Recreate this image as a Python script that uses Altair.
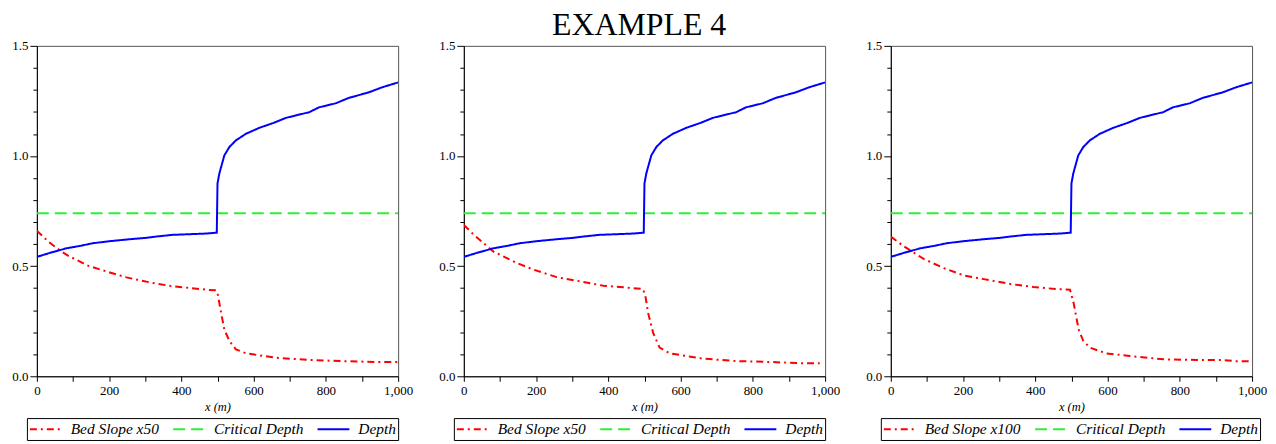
import altair as alt
import pandas as pd

# ---------------- data ----------------
depth_x = [0, 40, 82, 120, 155, 200, 256, 300, 329, 375, 439, 470, 498, 500, 505, 510, 519, 533, 551,
           579, 616, 653, 689, 754, 781, 827, 864, 919, 956, 1000]
depth_y = [0.542, 0.562, 0.581, 0.592, 0.604, 0.613, 0.622, 0.628, 0.634, 0.642, 0.646, 0.648, 0.652,
           0.875, 0.920, 0.950, 1.003, 1.041, 1.071, 1.101, 1.128, 1.149, 1.173, 1.199, 1.221, 1.239,
           1.264, 1.289, 1.312, 1.334]

crit_x = [0, 1000]
crit_y = [0.74, 0.74]

slope1_x = [0, 32, 64, 87, 142, 202, 248, 322, 377, 423, 469, 496, 501, 510, 519, 533, 551, 579, 662,
            754, 846, 938, 1000]
slope1_y = [0.661, 0.611, 0.571, 0.547, 0.502, 0.471, 0.449, 0.423, 0.408, 0.401, 0.393, 0.390, 0.370,
            0.288, 0.212, 0.160, 0.122, 0.104, 0.084, 0.074, 0.069, 0.065, 0.065]

slope2_x = [0, 28, 82, 147, 193, 257, 322, 386, 441, 496, 503, 510, 524, 542, 570, 662, 754, 846, 938, 985]
slope2_y = [0.687, 0.642, 0.566, 0.514, 0.484, 0.450, 0.431, 0.411, 0.404, 0.396, 0.360, 0.288, 0.197,
            0.130, 0.104, 0.080, 0.069, 0.065, 0.059, 0.059]

slope3_x = [0, 37, 92, 147, 202, 257, 331, 395, 459, 496, 506, 520, 533, 551, 597, 662, 754, 846, 919,
            956, 1000]
slope3_y = [0.634, 0.589, 0.532, 0.491, 0.458, 0.441, 0.419, 0.405, 0.396, 0.393, 0.333, 0.212, 0.160,
            0.130, 0.104, 0.092, 0.077, 0.074, 0.074, 0.068, 0.068]

slope_labels = ["Bed Slope x50", "Bed Slope x50", "Bed Slope x100"]

x_ticks = [0, 100, 200, 300, 400, 500, 600, 700, 800, 900, 1000]
y_ticks = [0.0, 0.1, 0.2, 0.3, 0.4, 0.5, 0.6, 0.7, 0.8, 0.9, 1.0, 1.1, 1.2, 1.3, 1.4, 1.5]

SERIF = "Liberation Serif"


def build_df(sx, sy, slabel):
    rows = []
    for i, (a, b) in enumerate(zip(sx, sy)):
        rows.append({"series": slabel, "x": a, "y": b, "idx": i})
    for i, (a, b) in enumerate(zip(crit_x, crit_y)):
        rows.append({"series": "Critical Depth", "x": a, "y": b, "idx": i})
    for i, (a, b) in enumerate(zip(depth_x, depth_y)):
        rows.append({"series": "Depth", "x": a, "y": b, "idx": i})
    return pd.DataFrame(rows)


def panel(sx, sy, slabel):
    df = build_df(sx, sy, slabel)
    domain = [slabel, "Critical Depth", "Depth"]
    legend = alt.Legend(
        title=None, orient="none", legendX=-10, legendY=374, direction="horizontal",
        symbolType="M-2,0H2", symbolSize=256, symbolStrokeWidth=2,
        symbolOffset=8, labelOffset=16,
        labelFont=SERIF, labelFontStyle="italic", labelFontSize=15.5, labelColor="black",
        strokeColor="black", fillColor="white", padding=2, columnPadding=10,
    )
    return alt.Chart(df).mark_line(strokeWidth=2, clip=True).encode(
        x=alt.X("x:Q", scale=alt.Scale(domain=[0, 1000], nice=False),
                axis=alt.Axis(values=x_ticks, title="x (m)", titleFont=SERIF, titleFontStyle="italic",
                              titleFontWeight="normal", titleFontSize=12.5, titleColor="black",
                              titlePadding=3,
                              labelExpr="datum.value % 200 == 0 ? format(datum.value, ',') : ''",
                              labelFont=SERIF, labelFontSize=13, labelColor="black", labelPadding=3,
                              labelFlush=False, labelOverlap=False,
                              tickSize=5, tickColor="black", domainColor="black", grid=False)),
        y=alt.Y("y:Q", scale=alt.Scale(domain=[0, 1.5], nice=False),
                axis=alt.Axis(values=y_ticks, title=None,
                              labelExpr="abs(datum.value*2 - round(datum.value*2)) < 0.001 ? format(datum.value, '.1f') : ''",
                              labelFont=SERIF, labelFontSize=13, labelColor="black", labelPadding=2,
                              labelOverlap=False,
                              tickSize={"condition": {"test": "abs(datum.value*2 - round(datum.value*2)) < 0.001", "value": 7}, "value": 4},
                              tickColor="black", domainColor="black", grid=False)),
        color=alt.Color("series:N", scale=alt.Scale(domain=domain, range=["#ff0000", "#33ee33", "#0000ff"]),
                        legend=legend),
        strokeDash=alt.StrokeDash("series:N", scale=alt.Scale(domain=domain, range=[[7, 4, 2, 4], [12, 6], [1, 0]]),
                                  legend=legend),
        order="idx:Q",
    ).properties(width=363, height=332)


p1 = panel(slope1_x, slope1_y, slope_labels[0])
p2 = panel(slope2_x, slope2_y, slope_labels[1])
p3 = panel(slope3_x, slope3_y, slope_labels[2])

chart = alt.hconcat(p1, p2, p3, spacing=24).resolve_scale(
    color="independent", strokeDash="independent"
).resolve_legend(
    color="independent", strokeDash="independent"
).properties(
    title=alt.TitleParams("EXAMPLE 4", font=SERIF, fontSize=32, fontWeight="normal", anchor="middle",
                          color="black", offset=-3),
    padding={"left": 3, "top": 0, "right": 0, "bottom": 0},
).configure_view(stroke="#555555", strokeWidth=1)

chart.save("out.html", embed_options={"renderer": "svg", "actions": False})
